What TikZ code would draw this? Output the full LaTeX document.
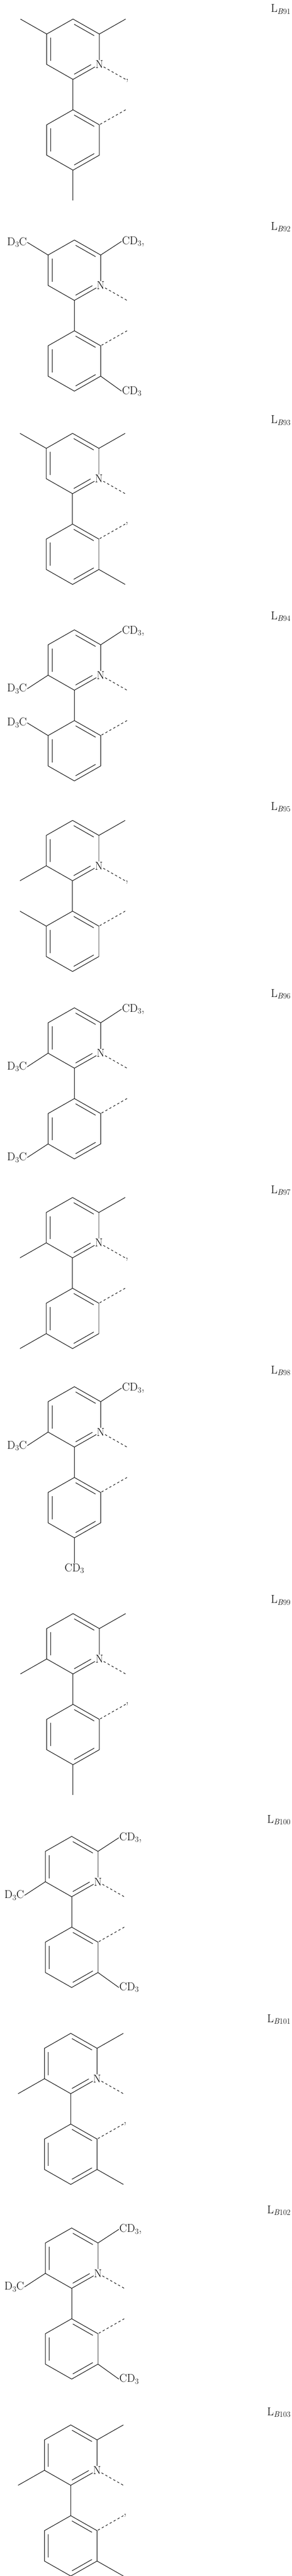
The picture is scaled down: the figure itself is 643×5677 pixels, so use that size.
\documentclass[tikz,border=0pt]{standalone}
\usepackage{fontspec}
\usetikzlibrary{calc}
\newcommand\chemfont{\fontsize{25}{30}\selectfont}
\tikzset{
  bond/.style={line width=1.1pt},
  innerbond/.style={line width=1.1pt, shorten <=3pt, shorten >=3pt},
  dsh/.style={line width=1.1pt, dash pattern=on 5pt off 5pt},
  atom/.style={inner sep=0.8pt, font=\chemfont},
  lab/.style={inner sep=1pt, font=\chemfont},
  comma/.style={anchor=base west, inner sep=0pt, yshift=-2pt, font=\chemfont},
  title/.style={anchor=base east, inner sep=0pt, font=\chemfont}
}
% #1 id, #2 x, #3 y, #4 text after N dash, #5 text after phenyl dash
\newcommand\mybase[5]{%
  \begin{scope}[shift={(#2,#3)}]
    \coordinate (#1p1) at (0,0);   \coordinate (#1p2) at (58,33);
    \coordinate (#1p3) at (58,100);\coordinate (#1p4) at (0,133);
    \coordinate (#1p5) at (-58,100);\coordinate (#1p6) at (-58,33);
    \coordinate (#1pc) at (0,67);
    \coordinate (#1q1) at (0,200); \coordinate (#1q2) at (58,233);
    \coordinate (#1q3) at (58,300);\coordinate (#1q4) at (0,333);
    \coordinate (#1q5) at (-58,300);\coordinate (#1q6) at (-58,233);
    \coordinate (#1qc) at (0,267);
    \coordinate (#1dn) at (116,133); \coordinate (#1dp) at (116,200);
  \end{scope}
  \node[atom] (#1N) at (#1p3) {N};
  \draw[bond] (#1N) -- (#1p2) -- (#1p1) -- (#1p6) -- (#1p5) -- (#1p4) -- (#1N);
  \draw[bond] (#1p4) -- (#1q1);
  \draw[bond] (#1q1) -- (#1q2) -- (#1q3) -- (#1q4) -- (#1q5) -- (#1q6) -- cycle;
  \draw[innerbond] ($(#1pc)!0.85!(#1p1)$) -- ($(#1pc)!0.85!(#1p2)$);
  \draw[innerbond] ($(#1pc)!0.85!(#1p6)$) -- ($(#1pc)!0.85!(#1p5)$);
  \draw[innerbond, shorten <=11pt] ($(#1pc)!0.85!(#1p3)$) -- ($(#1pc)!0.85!(#1p4)$);
  \draw[innerbond] ($(#1qc)!0.85!(#1q1)$) -- ($(#1qc)!0.85!(#1q2)$);
  \draw[innerbond] ($(#1qc)!0.85!(#1q6)$) -- ($(#1qc)!0.85!(#1q5)$);
  \draw[innerbond] ($(#1qc)!0.85!(#1q3)$) -- ($(#1qc)!0.85!(#1q4)$);
  \draw[dsh] (#1N) -- (#1dn) node[comma] (#1cn) {#4};
  \draw[dsh, shorten <=2pt] (#1q2) -- (#1dp) node[comma, yshift=4pt] (#1cp) {#5};
}
% substituents
\newcommand\meUL[1]{\draw[bond] (#1p6) -- ++(-58,-33) coordinate (#1mul);}
\newcommand\meUR[1]{\draw[bond] (#1p2) -- ++(58,-33) coordinate (#1mur);}
\newcommand\meDL[1]{\draw[bond] (#1p5) -- ++(-58,33) coordinate (#1mdl);}
\newcommand\meQDR[1]{\draw[bond] (#1q3) -- ++(58,33) coordinate (#1mqdr);}
\newcommand\meQD[1]{\draw[bond] (#1q4) -- ++(0,67) coordinate (#1mqd);}
\newcommand\meQUL[1]{\draw[bond] (#1q6) -- ++(-58,-33) coordinate (#1mqul);}
\newcommand\meQDL[1]{\draw[bond] (#1q5) -- ++(-58,33) coordinate (#1mqdl);}
\newcommand\cdUL[1]{\node[lab, anchor=east] (#1dul) at ($(#1p6)+(-46,-28)$) {D\textsubscript{3}C}; \draw[bond] (#1p6) -- (#1dul.east);}
\newcommand\cdUR[1]{\node[lab, anchor=west] (#1dur) at ($(#1p2)+(46,-30)$) {CD\textsubscript{3},}; \draw[bond] (#1p2) -- (#1dur.west);}
\newcommand\cdDL[1]{\node[lab, anchor=east] (#1ddl) at ($(#1p5)+(-46,30)$) {D\textsubscript{3}C}; \draw[bond] (#1p5) -- (#1ddl.east);}
\newcommand\cdQUL[1]{\node[lab, anchor=east] (#1dqul) at ($(#1q6)+(-46,-28)$) {D\textsubscript{3}C}; \draw[bond] (#1q6) -- (#1dqul.east);}
\newcommand\cdQDL[1]{\node[lab, anchor=east] (#1dqdl) at ($(#1q5)+(-46,30)$) {D\textsubscript{3}C}; \draw[bond] (#1q5) -- (#1dqdl.east);}
\newcommand\cdQDR[1]{\node[lab, anchor=west] (#1dqdr) at ($(#1q3)+(46,33)$) {CD\textsubscript{3}}; \draw[bond] (#1q3) -- (#1dqdr.west);}
\newcommand\cdQD[1]{\node[lab, anchor=north] (#1dqd) at ($(#1q4)+(0,56)$) {CD\textsubscript{3}}; \draw[bond] (#1q4) -- (#1dqd.north);}
\begin{document}
\begin{tikzpicture}[x=1pt,y=-1pt]
\useasboundingbox (0,0) rectangle (643,5677);
% 1
\mybase{a}{161}{42}{,}{} \meUL{a}\meUR{a}\meQD{a}
\node[title] (la) at (641,27) {L\textsubscript{\textit{B}91}};
% 2
\mybase{b}{164}{529}{}{} \cdUL{b}\cdUR{b}\cdQDR{b}
\node[title] (lb) at (641,507) {L\textsubscript{\textit{B}92}};
% 3
\mybase{c}{160}{955}{}{,} \meUL{c}\meUR{c}\meQDR{c}
\node[title] (lc) at (641,933) {L\textsubscript{\textit{B}93}};
% 4
\mybase{d}{164}{1388}{}{} \cdUR{d}\cdDL{d}\cdQUL{d}
\node[title] (ld) at (641,1365) {L\textsubscript{\textit{B}94}};
% 5
\mybase{e}{160}{1808}{,}{} \meUR{e}\meDL{e}\meQUL{e}
\node[title] (le) at (641,1785) {L\textsubscript{\textit{B}95}};
% 6
\mybase{f}{164}{2221}{}{} \cdUR{f}\cdDL{f}\cdQDL{f}
\node[title] (lf) at (641,2197) {L\textsubscript{\textit{B}96}};
% 7
\mybase{g}{160}{2639}{,}{} \meUR{g}\meDL{g}\meQDL{g}
\node[title] (lg) at (641,2630) {L\textsubscript{\textit{B}97}};
% 8
\mybase{h}{164}{3056}{}{} \cdUR{h}\cdDL{h}\cdQD{h}
\node[title] (lh) at (641,3027) {L\textsubscript{\textit{B}98}};
% 9
\mybase{i}{161}{3556}{}{,} \meUR{i}\meDL{i}\meQD{i}
\node[title] (li) at (641,3533) {L\textsubscript{\textit{B}99}};
% 10
\mybase{j}{158}{4047}{}{} \cdUR{j}\cdDL{j}\cdQDR{j}
\node[title] (lj) at (641,4017) {L\textsubscript{\textit{B}100}};
% 11
\mybase{k}{156}{4481}{}{,} \meUR{k}\meDL{k}\meQDR{k}
\node[title] (lk) at (641,4457) {L\textsubscript{\textit{B}101}};
% 12
\mybase{l}{158}{4910}{}{} \cdUR{l}\cdDL{l}\cdQDR{l}
\node[title] (ll) at (641,4878) {L\textsubscript{\textit{B}102}};
% 13
\mybase{m}{156}{5344}{}{,} \meUR{m}\meDL{m}\meQDR{m}
\node[title] (lm) at (641,5323) {L\textsubscript{\textit{B}103}};
\end{tikzpicture}
\end{document}
